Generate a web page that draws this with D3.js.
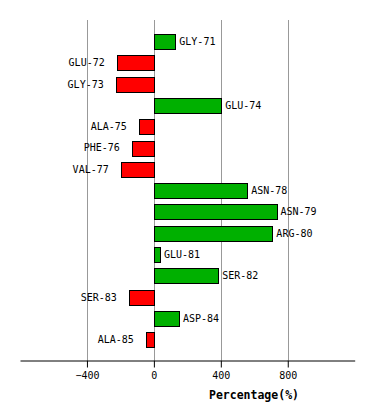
<!DOCTYPE html>
<html>
<head>
<meta charset="utf-8">
<script src="https://cdn.jsdelivr.net/npm/d3@7"></script>
<style>
  body { margin: 0; background: #fff; }
  svg text { font-family: "DejaVu Sans Mono", monospace; }
</style>
</head>
<body>
<svg id="chart" width="374" height="420"></svg>
<script>
// residues and their percentage values
const residues = ["GLY-71", "GLU-72", "GLY-73", "GLU-74", "ALA-75", "PHE-76", "VAL-77",
  "ASN-78", "ASN-79", "ARG-80", "GLU-81", "SER-82", "SER-83", "ASP-84", "ALA-85"];
const values = [128, -222, -228, 402, -90, -132, -198, 558, 732, 708, 36, 384, -150, 150, -48];
const tickValues = [-400, 0, 400, 800];
const xTitle = "Percentage(%)";

const data = residues.map((r, i) => ({ name: r, value: values[i] }));

const svg = d3.select("#chart");

const x = d3.scaleLinear()
  .domain([-800, 1200])
  .range([20, 354.7]);

const y = d3.scaleBand()
  .domain(residues)
  .range([23.35, 357.85])
  .paddingInner(0.296)
  .paddingOuter(0.5);

const axisY = 360;

// vertical grid lines
svg.append("g")
  .selectAll("line")
  .data(tickValues)
  .join("line")
  .attr("x1", d => Math.round(x(d)) + 0.5)
  .attr("x2", d => Math.round(x(d)) + 0.5)
  .attr("y1", 20)
  .attr("y2", axisY)
  .attr("stroke", "#999")
  .attr("stroke-width", 1);

// bars
svg.append("g")
  .selectAll("rect")
  .data(data)
  .join("rect")
  .attr("x", d => Math.round(x(Math.min(0, d.value))) + 0.5)
  .attr("y", d => Math.round(y(d.name)) + 0.5)
  .attr("width", d => Math.round(Math.abs(x(d.value) - x(0))))
  .attr("height", Math.round(y.bandwidth()))
  .attr("fill", d => d.value >= 0 ? "#00b000" : "#ff0000")
  .attr("stroke", "#000")
  .attr("stroke-width", 1);

// bar labels
svg.append("g")
  .selectAll("text")
  .data(data)
  .join("text")
  .attr("x", d => d.value >= 0 ? x(d.value) + 4 : x(d.value) - 12)
  .attr("y", d => y(d.name) + y.bandwidth() / 2)
  .attr("dy", "0.35em")
  .attr("text-anchor", d => d.value >= 0 ? "start" : "end")
  .attr("font-size", "10px")
  .attr("fill", "#000")
  .text(d => d.name);

// x axis
const xAxis = d3.axisBottom(x)
  .tickValues(tickValues)
  .tickSize(7)
  .tickSizeOuter(0)
  .tickPadding(4);

const gx = svg.append("g")
  .attr("transform", "translate(0," + (axisY + 0.5) + ")")
  .call(xAxis);
gx.select(".domain").attr("stroke", "#000");
gx.selectAll(".tick line").attr("stroke", "#000");
gx.selectAll(".tick text")
  .attr("font-family", "DejaVu Sans Mono, monospace")
  .attr("font-size", "10px")
  .attr("fill", "#000");

svg.append("text")
  .attr("x", 254)
  .attr("y", 399)
  .attr("text-anchor", "middle")
  .attr("font-size", "11.5px")
  .attr("font-weight", "bold")
  .text(xTitle);
</script>
</body>
</html>
